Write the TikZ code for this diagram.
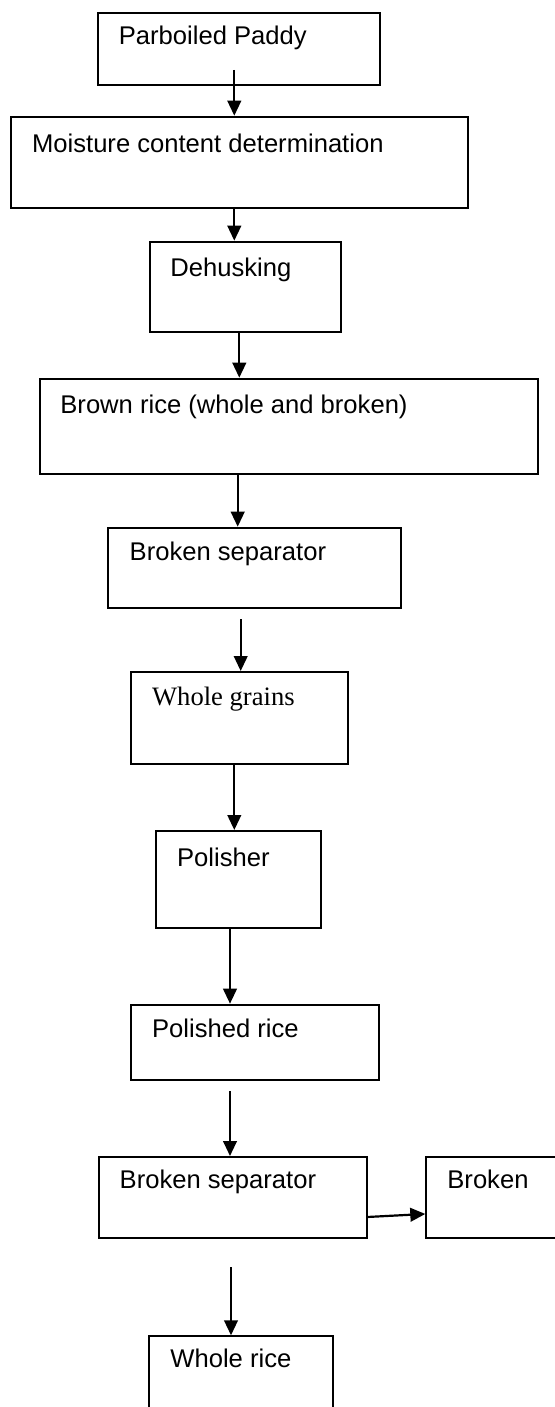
\documentclass[tikz,border=0pt]{standalone}
\usepackage{fontspec}
\setmainfont{Liberation Sans}
\newfontfamily\timesfont{Liberation Serif}
\usepackage{tikz}
\usetikzlibrary{calc}
\usetikzlibrary{arrows.meta}

\begin{document}
\begin{tikzpicture}[x=0.5pt,y=-0.5pt,
  procbox/.style={draw,line width=0.95pt,inner sep=0pt,anchor=north west},
  boxtext/.style={anchor=base west,inner sep=0pt,font=\fontsize{12.8}{15}\selectfont},
  flow/.style={-{Triangle[length=7.5pt,width=6.8pt]},line width=1.1pt}]
\useasboundingbox (0,0) rectangle (555,1407);

% Boxes
\node[procbox,minimum width=140.7pt,minimum height=35.85pt] (paddy) at (97.3,12.3) {};
\node[procbox,minimum width=228.5pt,minimum height=45.5pt] (moisture) at (10,115.7) {};
\node[procbox,minimum width=95.8pt,minimum height=45pt] (dehusk) at (148.7,240.7) {};
\node[procbox,minimum width=248.85pt,minimum height=47.5pt] (brown) at (39.3,377.7) {};
\node[procbox,minimum width=146.5pt,minimum height=40pt] (separate) at (107.3,526.7) {};
\node[procbox,minimum width=108.5pt,minimum height=46.15pt] (grains) at (130,671) {};
\node[procbox,minimum width=82.2pt,minimum height=48.65pt] (polisher) at (155.3,830) {};
\node[procbox,minimum width=124pt,minimum height=37.5pt] (polished) at (130,1003.7) {};
\node[procbox,minimum width=134.3pt,minimum height=40.5pt] (separatetwo) at (97.7,1156) {};
\node[procbox,minimum width=65.85pt,minimum height=40.5pt] (broken) at (425.3,1156) {};
\node[procbox,minimum width=91.85pt,minimum height=42.5pt] (wholerice) at (148.3,1335.3) {};

% Labels
\node[boxtext] (paddytxt) at ($(paddy.north west)+(21.2,32.7)$) {Parboiled Paddy};
\node[boxtext] (moisturetxt) at ($(moisture.north west)+(21.7,36.6)$) {Moisture content determination};
\node[boxtext] (dehusktxt) at ($(dehusk.north west)+(21.3,36)$) {Dehusking};
\node[boxtext] (browntxt) at ($(brown.north west)+(20.7,35.6)$) {Brown rice (whole and broken)};
\node[boxtext] (separatetxt) at ($(separate.north west)+(22,33.3)$) {Broken separator};
\node[boxtext,font=\timesfont\fontsize{13.3}{15}\selectfont] (grainstxt) at ($(grains.north west)+(21.7,34.5)$) {Whole grains};
\node[boxtext] (polishertxt) at ($(polisher.north west)+(21.4,36)$) {Polisher};
\node[boxtext] (polishedtxt) at ($(polished.north west)+(21.7,33.3)$) {Polished rice};
\node[boxtext] (separatetwotxt) at ($(separatetwo.north west)+(21.6,32.7)$) {Broken separator};
\node[boxtext] (brokentxt) at ($(broken.north west)+(21.7,32.7)$) {Broken};
\node[boxtext] (wholericetxt) at ($(wholerice.north west)+(21.7,31.7)$) {Whole rice};

% Arrows
\coordinate (colA) at (234.3,0);
\coordinate (colB) at (239.3,0);
\coordinate (colC) at (237.7,0);
\coordinate (colD) at (230,0);
\coordinate (start1) at (234.3,70);
\coordinate (start5) at (240.7,619.3);
\coordinate (start8) at (230,1091);
\coordinate (start9) at (231,1267);
\draw[flow] (start1) -- (start1 |- moisture.north);
\draw[flow] (moisture.south -| colA) -- (dehusk.north -| colA);
\draw[flow] (dehusk.south -| colB) -- (brown.north -| colB);
\draw[flow] (brown.south -| colC) -- (separate.north -| colC);
\draw[flow] (start5) -- (start5 |- grains.north);
\draw[flow] (grains.south -| colA) -- (polisher.north -| colA);
\draw[flow] (polisher.south -| colD) -- (polished.north -| colD);
\draw[flow] (start8) -- (start8 |- separatetwo.north);
\draw[flow] (start9) -- (start9 |- wholerice.north);
\draw[flow] ([yshift=-9.75pt]separatetwo.east) -- ([yshift=-8.25pt]broken.west);
\end{tikzpicture}
\end{document}
